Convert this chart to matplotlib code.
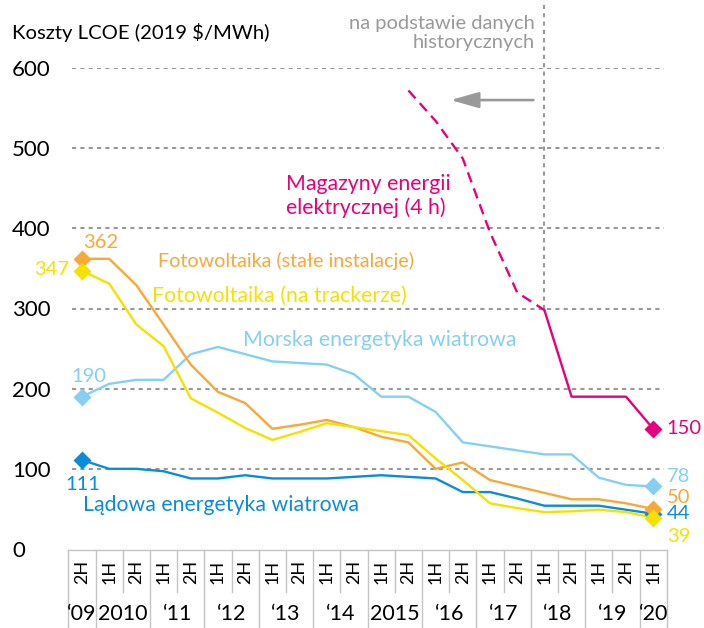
import matplotlib
matplotlib.use('Agg')
import matplotlib.pyplot as plt
import numpy as np
from matplotlib.transforms import blended_transform_factory

plt.rcParams['font.family'] = ['Lato', 'DejaVu Sans']

# half-year categories along the x axis
halves = ['2H'] + ['1H', '2H'] * 10 + ['1H']
years = ['‘09', '2010', '‘11', '‘12', '‘13', '‘14', '2015',
         '‘16', '‘17', '‘18', '‘19', '‘20']
year_halves = [1, 2, 2, 2, 2, 2, 2, 2, 2, 2, 2, 1]

# LCOE, 2019 $/MWh
onshore = [111, 100, 100, 97, 88, 88, 92, 88, 88, 88, 90,
           92, 90, 88, 71, 71, 63, 54, 54, 54, 49, 44]
offshore = [190, 206, 211, 211, 243, 252, 243, 234, 232, 230, 218,
            190, 190, 171, 133, 128, 123, 118, 118, 89, 80, 78]
pv_fixed = [362, 362, 329, 280, 230, 196, 182, 150, 155, 161, 152,
            140, 133, 100, 108, 86, 78, 70, 62, 62, 57, 50]
pv_tracking = [347, 331, 280, 253, 188, 170, 151, 136, 146, 157, 152,
               147, 142, 113, 86, 57, 51, 46, 47, 49, 46, 39]
# storage: estimated (dashed) from 1H'15 and historical (solid) from 1H'18
storage_est_start = 12
storage_est = [572, 534, 487, 395, 320, 298]
storage_start = 17
storage = [298, 190, 190, 190, 150]

C_ON = '#0b8cd7'
C_OFF = '#85d0f2'
C_FIX = '#f7a838'
C_TRK = '#f5e100'
C_STO = '#e5007d'
GRAY = '#999999'
BOX = '#c4c4c4'

fig = plt.figure(figsize=(7.04, 6.28), dpi=100)
ax = fig.add_axes([68.4 / 704, 79 / 628, 598.4 / 704, 481 / 628])
ax.set_xlim(-0.5, 21.5)
ax.set_ylim(0, 600)
for s in ax.spines.values():
    s.set_visible(False)
ax.set_xticks([])
ax.set_yticks(range(0, 700, 100))
ax.tick_params(axis='y', length=0, pad=40.5, labelsize=16)
for lbl in ax.get_yticklabels():
    lbl.set_horizontalalignment('left')

ax.hlines(range(100, 700, 100), -0.37, 21.4, colors=GRAY, lw=1.5,
          linestyles=(0, (2, 2)), zorder=1)
ax.vlines(17, 300, 678, colors=GRAY, lw=1.5, linestyles=(0, (2, 2)),
          clip_on=False, zorder=1)
ax.annotate('', xy=(13.45, 560), xytext=(16.7, 560),
            arrowprops=dict(arrowstyle='-|>,head_length=0.95,head_width=0.27',
                            color=GRAY, lw=1.9, mutation_scale=18))

x = np.arange(len(halves))
lw = 1.7
ax.plot(x, onshore, color=C_ON, lw=lw, zorder=3)
ax.plot(x, offshore, color=C_OFF, lw=lw, zorder=3)
ax.plot(x, pv_fixed, color=C_FIX, lw=lw, zorder=4)
ax.plot(x, pv_tracking, color=C_TRK, lw=lw, zorder=5)
xe = np.arange(storage_est_start, storage_est_start + len(storage_est))
ax.plot(xe, storage_est, color=C_STO, lw=lw, ls=(0, (4.5, 2.7)), zorder=3)
xs = np.arange(storage_start, storage_start + len(storage))
ax.plot(xs, storage, color=C_STO, lw=lw, zorder=3)

ms = 9
for series, c, z in [(onshore, C_ON, 6), (offshore, C_OFF, 6),
                     (pv_fixed, C_FIX, 7), (pv_tracking, C_TRK, 8)]:
    ax.plot([x[0], x[-1]], [series[0], series[-1]], 'D', color=c, ms=ms,
            mec='none', zorder=z, clip_on=False)
ax.plot(xs[-1], storage[-1], 'D', color=C_STO, ms=ms, mec='none', zorder=6)

fs = 14.5
# start values
ax.text(0.05, 382, str(pv_fixed[0]), color=C_FIX, fontsize=fs, va='center')
ax.text(-1.75, 349, str(pv_tracking[0]), color=C_TRK, fontsize=fs, va='center')
ax.text(-0.4, 215, str(offshore[0]), color=C_OFF, fontsize=fs, va='center')
ax.text(-0.6, 81, str(onshore[0]), color=C_ON, fontsize=fs, va='center')
# end values
xr = 21.5
ax.text(xr, 150, str(storage[-1]), color=C_STO, fontsize=fs, va='center')
ax.text(xr, 91, str(offshore[-1]), color=C_OFF, fontsize=fs, va='center')
ax.text(xr, 64, str(pv_fixed[-1]), color=C_FIX, fontsize=fs, va='center')
ax.text(xr, 44, str(onshore[-1]), color=C_ON, fontsize=fs, va='center')
ax.text(xr, 15, str(pv_tracking[-1]), color=C_TRK, fontsize=fs, va='center')

# series names
fn = 15.3
ax.text(2.79, 359, 'Fotowoltaika (stałe instalacje)', color=C_FIX,
        fontsize=14.2, va='center')
ax.text(2.57, 316, 'Fotowoltaika (na trackerze)', color=C_TRK,
        fontsize=fn, va='center')
ax.text(5.92, 261, 'Morska energetyka wiatrowa', color=C_OFF,
        fontsize=fn, va='center')
ax.text(0.04, 55, 'Lądowa energetyka wiatrowa', color=C_ON,
        fontsize=fn, va='center')
ax.text(7.5, 440, 'Magazyny energii\nelektrycznej (4 h)', color=C_STO,
        fontsize=fn, va='center', linespacing=1.2)
ax.text(16.65, 644, 'na podstawie danych\nhistorycznych', color=GRAY,
        fontsize=14.5, va='center', ha='right', linespacing=1.15)

fig.text(12 / 704, 1 - 32 / 628, 'Koszty LCOE (2019 $/MWh)', fontsize=14.6,
         va='center')

# category box under the plot
trans = blended_transform_factory(ax.transData, ax.transAxes)
ax.plot([-0.5, 21.5], [-0.002, -0.002], color=BOX, lw=1, transform=trans,
        clip_on=False)
year_edges = -0.5 + np.concatenate([[0], np.cumsum(year_halves)])
for b in np.arange(-0.5, 22, 1.0):
    bottom = -0.17 if np.isclose(year_edges, b).any() else -0.09
    ax.plot([b, b], [-0.002, bottom], color=BOX, lw=1, transform=trans,
            clip_on=False)
for i, h in enumerate(halves):
    ax.text(i, -0.048, h, rotation=90, ha='center', va='center', fontsize=13,
            transform=trans)
for k, y in enumerate(years):
    center = (year_edges[k] + year_edges[k + 1]) / 2
    ax.text(center, -0.135, y, ha='center', va='center', fontsize=15.5,
            transform=trans)

fig.savefig('out.png', dpi=100)
